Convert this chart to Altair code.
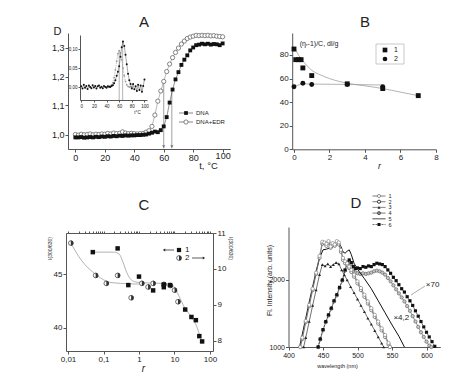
import altair as alt
import pandas as pd

W, H = 458, 364
FONT = "Liberation Sans"
INK = "#222222"
AX = "#555555"
GRAY = "#a0a0a0"

# ---------------- Panel A : melting curves ----------------
a_t = list(range(0, 101, 2))
a_dna = [0.990, 0.990, 0.991, 0.989, 0.990, 0.991, 0.990, 0.992, 0.991, 0.993,
         0.992, 0.994, 0.993, 0.995, 0.994, 0.996, 0.995, 0.997, 0.996, 0.997,
         0.997, 0.998, 0.998, 0.999, 1.000, 1.003, 1.006, 1.010, 1.008, 1.015,
         1.028, 1.060, 1.110, 1.155, 1.190, 1.215, 1.240, 1.258, 1.273, 1.290,
         1.300, 1.308, 1.310, 1.313, 1.311, 1.313, 1.310, 1.312, 1.311, 1.308, 1.314]
a_edr = [1.000, 0.998, 1.001, 0.999, 1.000, 1.002, 0.999, 1.001, 1.000, 1.002,
         1.001, 1.004, 1.002, 1.005, 1.003, 1.004, 1.009, 1.005, 1.003, 1.004,
         1.003, 1.002, 1.003, 1.004, 1.008, 1.013, 1.028, 1.067, 1.115, 1.150,
         1.183, 1.217, 1.243, 1.265, 1.283, 1.298, 1.312, 1.322, 1.331, 1.336,
         1.339, 1.342, 1.341, 1.342, 1.341, 1.342, 1.340, 1.341, 1.339, 1.338, 1.337]
a_tm = [60, 65.5]
a_tm_top = [1.19, 1.16]
a_legend = ["DNA", "DNA+EDR"]

# inset: derivative curves
ai_t = list(range(0, 101, 2))
ai_dna = [0.002, -0.004, 0.006, -0.002, 0.003, -0.005, 0.004, 0.000, -0.003, 0.005,
          -0.001, 0.003, -0.004, 0.002, 0.004, -0.002, 0.001, -0.003, 0.003, 0.000,
          -0.002, 0.002, 0.001, 0.000, 0.003, 0.005, 0.010, 0.018, 0.030, 0.040,
          0.055, 0.080, 0.105, 0.120, 0.108, 0.085, 0.060, 0.035, 0.018, 0.008,
          -0.004, 0.008, -0.006, 0.002, -0.010, 0.006, -0.008, 0.004, -0.012, 0.003, 0.020]
ai_edr_t = list(range(40, 81, 2))
ai_edr = [0.000, 0.002, 0.001, 0.003, 0.006, 0.012, 0.025, 0.045, 0.068, 0.088,
          0.096, 0.090, 0.072, 0.050, 0.030, 0.015, 0.006, 0.002, 0.000, 0.001, 0.000]
ai_tm_top = [0.096, 0.120]

# ---------------- Panel B : viscosity ----------------
b_r1 = [0, 0.1, 0.25, 0.4, 0.5, 1, 3, 5, 7]
b_v1 = [85, 76, 76, 76, 69, 62.5, 55.5, 51.5, 45.5]
b_r2 = [0, 0.5, 1, 3, 5]
b_v2 = [53, 56, 55, 55, 53]
b_fit1_r = [0, 0.25, 0.5, 1, 1.5, 2, 3, 4, 5, 6, 7]
b_fit1_v = [87, 80, 75, 67, 63, 60, 56, 53.8, 51.5, 48.5, 45.5]
b_fit2_r = [0, 0.5, 1, 3, 5]
b_fit2_v = [53.5, 55.5, 55.3, 55, 54.5]
b_legend = ["1", "2"]

# ---------------- Panel C : I(300/630) vs r ----------------
c_r1 = [0.05, 0.25, 0.5, 1, 2.5, 5, 5, 7.5, 20, 30, 40, 50, 60]
c_v1 = [47.1, 47.45, 44.0, 44.8, 43.5, 44.05, 43.8, 44.0, 41.7, 41.0, 40.7, 39.2, 38.7]
c_r2 = [0.012, 0.06, 0.12, 0.25, 0.6, 1.2, 1.8, 2.5, 5, 7.6, 10, 12.5]
c_v2 = [10.72, 9.82, 9.6, 9.82, 9.2, 9.6, 9.5, 9.6, 9.57, 9.54, 9.41, 9.09]
c_fit1_r = [0.05, 0.1, 0.2, 0.28, 0.35, 0.45, 0.6, 0.8, 1, 2, 5, 8, 10, 12, 15, 20, 30, 40, 50, 60]
c_fit1_v = [47.1, 47.1, 47.1, 46.9, 46.2, 45.2, 44.5, 44.3, 44.25, 44.2, 44.15, 44.0,
            43.8, 43.3, 42.6, 41.8, 41.0, 40.3, 39.4, 38.6]
c_fit2_r = [0.012, 0.02, 0.03, 0.045, 0.07, 0.1, 0.15, 0.3, 1]
c_fit2_v = [10.72, 10.35, 10.12, 9.95, 9.8, 9.7, 9.63, 9.6, 9.58]
c_legend = ["1", "2"]
c_minor = [k * 10.0 ** e for e in (-2, -1, 0, 1) for k in range(1, 10)] + [100]

# ---------------- Panel D : fluorescence spectra ----------------
d1_nm = [417, 420, 425, 430, 435, 440, 445, 449, 452, 455, 458, 461, 464, 467, 470, 473, 476,
         479, 482, 485, 488, 491, 495, 500, 505, 510, 515, 520, 525, 530, 535, 540, 545, 547]
d1 = [1000, 1140, 1390, 1630, 1870, 2110, 2360, 2570, 2560, 2540, 2580, 2500, 2550, 2530, 2580,
      2560, 2450, 2330, 2280, 2250, 2200, 2150, 2080, 1980, 1880, 1780, 1680, 1580, 1480, 1380,
      1280, 1180, 1060, 1000]
d2 = [1000, 1120, 1370, 1610, 1850, 2090, 2330, 2540, 2550, 2510, 2560, 2480, 2520, 2510, 2560,
      2530, 2420, 2300, 2250, 2230, 2180, 2120, 2050, 1950, 1850, 1750, 1650, 1550, 1450, 1350,
      1250, 1150, 1040, 1000]
d3_nm = [422, 425, 430, 435, 440, 445, 449, 453, 457, 461, 465, 469, 473, 477, 481, 485, 490,
         495, 500, 505, 510, 515, 520, 525, 530, 535, 538]
d3 = [1000, 1140, 1380, 1620, 1850, 2080, 2230, 2210, 2240, 2200, 2230, 2260, 2240, 2150, 2075,
      2000, 1900, 1810, 1715, 1620, 1525, 1430, 1340, 1245, 1150, 1055, 1000]
d4_nm = [443, 446, 450, 454, 458, 462, 466, 470, 474, 478, 482, 485, 488, 491, 494, 497, 500,
         504, 508, 512, 516, 520, 524, 528, 532, 536, 540, 544, 548, 552, 556, 560, 564, 568,
         572, 576, 580, 584, 588, 592, 596, 600, 604, 607]
d4 = [1000, 1110, 1250, 1370, 1470, 1570, 1680, 1770, 1880, 1990, 2140, 2240, 2280, 2240, 2160,
      2110, 2100, 2090, 2100, 2090, 2100, 2110, 2130, 2140, 2130, 2110, 2080, 2030, 1980, 1920,
      1860, 1800, 1740, 1680, 1610, 1540, 1460, 1380, 1300, 1220, 1150, 1080, 1020, 1000]
d5_nm = [416, 420, 425, 430, 435, 440, 445, 450, 455, 460, 465, 470, 473, 476, 479, 482, 485,
         488, 491, 495, 500, 510, 520, 530, 540, 550, 560, 568]
d5 = [1000, 1190, 1430, 1670, 1900, 2130, 2330, 2450, 2460, 2480, 2500, 2530, 2550, 2500, 2420,
      2400, 2430, 2450, 2380, 2250, 2160, 2020, 1870, 1690, 1510, 1330, 1160, 1000]
d6_nm = [443, 446, 450, 454, 458, 462, 466, 470, 474, 478, 482, 485, 488, 491, 494, 497, 500,
         504, 508, 512, 516, 520, 524, 528, 532, 536, 540, 544, 548, 552, 556, 560, 564, 568,
         572, 576, 580, 584, 588, 592, 596, 600, 604, 608, 612]
d6 = [1000, 1120, 1260, 1380, 1480, 1580, 1690, 1780, 1890, 2000, 2150, 2260, 2300, 2260, 2200,
      2170, 2180, 2170, 2200, 2190, 2210, 2200, 2230, 2250, 2240, 2230, 2200, 2150, 2100, 2040,
      1990, 1930, 1870, 1820, 1750, 1690, 1620, 1540, 1460, 1380, 1300, 1220, 1150, 1080, 1010]
d_legend = ["1", "2", "3", "4", "5", "6"]
d_notes = ["×70", "×4,2"]
d_note_nm = [599, 552]
d_note_i = [1925, 1433]
d_pointer = [[577.5, 1776], [597.8, 1910]]

panel_letters = ["A", "B", "C", "D"]


# ---------------- helpers ----------------
def sc(domain, rng, typ="linear"):
    if typ == "log":
        return alt.Scale(type="log", domain=domain, range=rng, nice=False)
    return alt.Scale(type=typ, domain=domain, range=rng, nice=False, zero=False)


def ax(orient, offset, values, size=8, expr=None, **kw):
    d = dict(orient=orient, offset=offset, values=values, grid=False,
             domainColor=AX, tickColor=AX, labelColor=INK, labelFont=FONT,
             labelFontSize=size, tickSize=3, labelPadding=1,
             labelFlush=False, labelOverlap=False,
             titleFont=FONT, titleColor=INK, titleFontWeight="normal")
    if expr:
        d["labelExpr"] = expr
    d.update(kw)
    return alt.Axis(**d)


def xy(chart, data, xs, ys, xaxis=None, yaxis=None, xt=None, yt=None):
    return chart.properties(data=data).encode(
        x=alt.X("x:Q", scale=xs, axis=xaxis, title=xt),
        y=alt.Y("y:Q", scale=ys, axis=yaxis, title=yt))


def frame(xv, yv):
    return pd.DataFrame({"x": xv, "y": yv})


layers = []

# ---------------- Panel A ----------------
AXS = sc([-5, 105], [60, 222])
AYS = sc([0.95, 1.35], [141, 25])
comma1 = "replace(format(datum.value, '.1f'), '.', ',')"
dA = frame(a_t, a_dna)
eA = frame(a_t, a_edr)
tmA = pd.DataFrame({"x": a_tm, "y": a_tm_top, "y2": [0.952, 0.952], "ya": [0.958, 0.958]})
layers.append(alt.Chart(tmA).mark_rule(color=GRAY, strokeWidth=1).encode(
    x=alt.X("x:Q", scale=AXS, axis=None), y=alt.Y("y:Q", scale=AYS, axis=None), y2="y2:Q"))
layers.append(alt.Chart(tmA).mark_point(shape="triangle-down", filled=True, size=10, color="#777", opacity=1).encode(
    x=alt.X("x:Q", scale=AXS, axis=None), y=alt.Y("ya:Q", scale=AYS, axis=None)))
layers.append(xy(alt.Chart().mark_line(color="#444", strokeWidth=0.6), dA, AXS, AYS))
layers.append(xy(alt.Chart().mark_line(color="#888", strokeWidth=0.6), eA, AXS, AYS))
layers.append(xy(alt.Chart().mark_point(shape="circle", filled=True, fill="white", stroke="#555",
                                        strokeWidth=0.7, size=18, opacity=1), eA, AXS, AYS,
                 xaxis=ax("bottom", -223, [100], size=9, labelPadding=-1, tickSize=3)))
layers.append(xy(alt.Chart().mark_point(shape="square", filled=True, color="#111", size=15, opacity=1),
                 dA, AXS, AYS,
                 xaxis=ax("bottom", -223, [0, 20, 40, 60, 80], size=9,
                          titleX=200, titleY=16, titleFontSize=9.5, titleAlign="center",
                          titleBaseline="middle"),
                 yaxis=ax("left", -60, [1.0, 1.1, 1.2, 1.3], size=9, expr=comma1,
                          titleAngle=0, titleX=-11, titleY=23, titleFontSize=11,
                          titleAlign="center", titleBaseline="middle"),
                 xt="t, °C", yt="D"))

# inset
AIXS = sc([-2, 104], [72, 139])
AIYS = sc([-0.034, 0.137], [92, 27])
comma2 = "replace(format(datum.value, '.2f'), '.', ',')"
idA = frame(ai_t, ai_dna)
ieA = frame(ai_edr_t, ai_edr)
itm = pd.DataFrame({"x": a_tm, "y": ai_tm_top, "y2": [-0.034, -0.034]})
layers.append(alt.Chart(itm).mark_rule(color=GRAY, strokeWidth=0.8).encode(
    x=alt.X("x:Q", scale=AIXS, axis=None), y=alt.Y("y:Q", scale=AIYS, axis=None), y2="y2:Q"))
layers.append(xy(alt.Chart().mark_line(color="#999", strokeWidth=0.6, strokeDash=[1.5, 1]), ieA, AIXS, AIYS))
layers.append(xy(alt.Chart().mark_point(shape="circle", filled=True, color="#999", size=3, opacity=1), ieA, AIXS, AIYS))
layers.append(xy(alt.Chart().mark_line(color="#555", strokeWidth=0.5), idA, AIXS, AIYS))
layers.append(xy(alt.Chart().mark_point(shape="circle", filled=True, color="#111", size=4, opacity=1),
                 idA, AIXS, AIYS,
                 xaxis=ax("bottom", -272, [0, 20, 40, 60, 80, 100], size=4.5, tickSize=2,
                          titleX=129, titleY=12, titleFontSize=4.5, titleAlign="center",
                          titleBaseline="middle"),
                 yaxis=ax("left", -72, [0.0, 0.05, 0.10], size=4.5, expr=comma2, tickSize=2),
                 xt="t°C", yt=None))

# legend A
for i, lab in enumerate(a_legend):
    yy = 105 + 9 * i
    one = pd.DataFrame({"t": [lab]})
    layers.append(alt.Chart(one).mark_rule(color="#555", strokeWidth=0.7).encode(
        x=alt.value(171), x2=alt.value(185), y=alt.value(yy)))
    if i == 0:
        pm = alt.Chart(one).mark_point(shape="square", filled=True, color="#111", size=14, opacity=1)
    else:
        pm = alt.Chart(one).mark_point(shape="circle", filled=True, fill="white", stroke="#555",
                                       strokeWidth=0.7, size=18, opacity=1)
    layers.append(pm.encode(x=alt.value(178), y=alt.value(yy)))
    layers.append(alt.Chart(one).mark_text(font=FONT, fontSize=6, color=INK, align="left",
                                           baseline="middle").encode(
        x=alt.value(188), y=alt.value(yy), text="t:N"))

# ---------------- Panel B ----------------
BXS = sc([-0.1, 8], [284.2, 428])
BYS = sc([0, 98.6], [141.3, 25])
layers.append(xy(alt.Chart().mark_line(color=GRAY, strokeWidth=0.8, interpolate="monotone"),
                 frame(b_fit1_r, b_fit1_v), BXS, BYS))
layers.append(xy(alt.Chart().mark_line(color=GRAY, strokeWidth=0.8),
                 frame(b_fit2_r, b_fit2_v), BXS, BYS))
layers.append(xy(alt.Chart().mark_point(shape="circle", filled=True, color="#111", size=24, opacity=1),
                 frame(b_r2, b_v2), BXS, BYS))
layers.append(xy(alt.Chart().mark_point(shape="square", filled=True, color="#111", size=24, opacity=1),
                 frame(b_r1, b_v1), BXS, BYS,
                 xaxis=ax("bottom", -222.7, [0, 2, 4, 6, 8], size=8,
                          titleX=371, titleY=16, titleFontSize=9, titleFontStyle="italic",
                          titleAlign="center", titleBaseline="middle"),
                 yaxis=ax("left", -284.2, [0, 20, 40, 60, 80], size=8,
                          titleAngle=0, titleX=7, titleY=35, titleFontSize=7,
                          titleAlign="left", titleBaseline="middle"),
                 xt="r", yt="(ηᵣ-1)/C, dl/g"))
boxB = pd.DataFrame({"t": ["box"]})
layers.append(alt.Chart(boxB).mark_rect(fill="white", stroke="#bbbbbb", strokeWidth=0.8).encode(
    x=alt.value(368), x2=alt.value(396), y=alt.value(36), y2=alt.value(56)))
for i, lab in enumerate(b_legend):
    yy = 42 + 9 * i
    one = pd.DataFrame({"t": [lab]})
    shp = "square" if i == 0 else "circle"
    layers.append(alt.Chart(one).mark_point(shape=shp, filled=True, color="#111", size=22, opacity=1).encode(
        x=alt.value(377), y=alt.value(yy)))
    layers.append(alt.Chart(one).mark_text(font=FONT, fontSize=7, color=INK, align="left",
                                           baseline="middle").encode(
        x=alt.value(386), y=alt.value(yy), text="t:N"))

# ---------------- Panel C ----------------
CXS = sc([0.00878, 121.5], [58, 205], "log")
CYL = sc([37.8, 48.9], [343, 225])
CYR = sc([7.72, 11.0], [343, 225])
logexpr = "replace(toString(datum.value), '.', ',')"
layers.append(xy(alt.Chart().mark_line(color=GRAY, strokeWidth=0.8, interpolate="monotone"),
                 frame(c_fit1_r, c_fit1_v), CXS, CYL,
                 xaxis=ax("top", -225, c_minor, size=6, labels=False, tickSize=2)))
layers.append(xy(alt.Chart().mark_line(color=GRAY, strokeWidth=0.8, interpolate="monotone"),
                 frame(c_fit2_r, c_fit2_v), CXS, CYR))
c2 = frame(c_r2, c_v2)
layers.append(alt.Chart(c2).mark_point(shape="circle", filled=True, fill="white", stroke="#333",
                                       strokeWidth=0.7, size=22, opacity=1).encode(
    x=alt.X("x:Q", scale=CXS, axis=None),
    y=alt.Y("y:Q", scale=CYR,
            axis=ax("right", -253, [8, 9, 10, 11], size=8, titleAngle=90, titleX=17, titleY=240,
                    titleFontSize=5, titleAlign="center", titleBaseline="middle"),
            title="I(300/630)")))
layers.append(alt.Chart(c2).mark_arc(radius=2.6, theta=0, theta2=3.1416, color="#333").encode(
    x=alt.X("x:Q", scale=CXS, axis=None), y=alt.Y("y:Q", scale=CYR, axis=None)))
layers.append(xy(alt.Chart().mark_point(shape="square", filled=True, color="#111", size=20, opacity=1),
                 frame(c_r1, c_v1), CXS, CYL,
                 xaxis=ax("bottom", -21, [0.01, 0.1, 1, 10, 100], size=8, expr=logexpr,
                          titleX=135, titleY=17, titleFontSize=10, titleFontStyle="italic",
                          titleAlign="center", titleBaseline="middle"),
                 yaxis=ax("left", -58, [40, 45], size=8, titleAngle=-90, titleX=-17, titleY=240,
                          titleFontSize=5, titleAlign="center", titleBaseline="middle"),
                 xt="r", yt="I(300/630)"))
# legend C
one = pd.DataFrame({"t": [c_legend[0]]})
layers.append(alt.Chart(one).mark_rule(color="#333", strokeWidth=0.8).encode(
    x=alt.value(156), x2=alt.value(166), y=alt.value(242)))
layers.append(alt.Chart(one).mark_point(shape="triangle-left", filled=True, color="#333", size=8, opacity=1).encode(
    x=alt.value(156), y=alt.value(242)))
layers.append(alt.Chart(one).mark_point(shape="square", filled=True, color="#111", size=18, opacity=1).encode(
    x=alt.value(171), y=alt.value(242)))
layers.append(alt.Chart(one).mark_text(font=FONT, fontSize=8, color=INK, align="left", baseline="middle").encode(
    x=alt.value(177), y=alt.value(242), text="t:N"))
two = pd.DataFrame({"t": [c_legend[1]]})
layers.append(alt.Chart(two).mark_point(shape="circle", filled=True, fill="white", stroke="#333",
                                        strokeWidth=0.7, size=22, opacity=1).encode(
    x=alt.value(171), y=alt.value(250)))
layers.append(alt.Chart(two).mark_arc(radius=2.6, theta=0, theta2=3.1416, color="#333").encode(
    x=alt.value(171), y=alt.value(250)))
layers.append(alt.Chart(two).mark_text(font=FONT, fontSize=8, color=INK, align="left", baseline="middle").encode(
    x=alt.value(177), y=alt.value(250), text="t:N"))
layers.append(alt.Chart(two).mark_rule(color="#333", strokeWidth=0.8).encode(
    x=alt.value(184), x2=alt.value(196), y=alt.value(250)))
layers.append(alt.Chart(two).mark_point(shape="triangle-right", filled=True, color="#333", size=8, opacity=1).encode(
    x=alt.value(196), y=alt.value(250)))

# ---------------- Panel D ----------------
DXS = sc([400, 620], [280.5, 432.3])
DYS = sc([1000, 2791], [339, 219])
layers.append(xy(alt.Chart().mark_line(color="#666", strokeWidth=0.7), frame(d4_nm, d4), DXS, DYS))
layers.append(xy(alt.Chart().mark_point(shape="circle", filled=True, fill="#c8c8c8", stroke="#555",
                                        strokeWidth=0.6, size=11, opacity=1),
                 frame(d4_nm, d4), DXS, DYS))
layers.append(xy(alt.Chart().mark_line(color="#222", strokeWidth=0.7, strokeDash=[2, 1]), frame(d6_nm, d6), DXS, DYS))
layers.append(xy(alt.Chart().mark_point(shape="square", filled=True, color="#111", size=10, opacity=1),
                 frame(d6_nm, d6), DXS, DYS))
layers.append(xy(alt.Chart().mark_line(color="#111", strokeWidth=1.0), frame(d5_nm, d5), DXS, DYS))
layers.append(xy(alt.Chart().mark_line(color="#333", strokeWidth=0.7), frame(d3_nm, d3), DXS, DYS))
layers.append(xy(alt.Chart().mark_point(shape="triangle-up", filled=True, color="#222", size=9, opacity=1),
                 frame(d3_nm, d3), DXS, DYS))
layers.append(xy(alt.Chart().mark_line(color="#555", strokeWidth=0.7), frame(d1_nm, d2), DXS, DYS))
layers.append(xy(alt.Chart().mark_point(shape="circle", filled=True, fill="white", stroke="#444",
                                        strokeWidth=0.6, size=11, opacity=1),
                 frame(d1_nm, d2), DXS, DYS))
layers.append(xy(alt.Chart().mark_line(color="#777", strokeWidth=0.7), frame(d1_nm, d1), DXS, DYS))
layers.append(xy(alt.Chart().mark_point(shape="circle", filled=True, fill="white", stroke="#777",
                                        strokeWidth=0.6, size=11, opacity=1),
                 frame(d1_nm, d1), DXS, DYS,
                 xaxis=ax("bottom", -25, [400, 450, 500, 550, 600], size=7,
                          titleX=329, titleY=18, titleFontSize=5.5, titleAlign="center",
                          titleBaseline="middle"),
                 yaxis=ax("left", -280.5, [1000, 2000], size=7, format="d",
                          titleAngle=-90, titleX=-19, titleY=272, titleFontSize=7,
                          titleAlign="center", titleBaseline="middle"),
                 xt="wavelength (nm)", yt="Fl. Intensity (arb. units)"))
ptr = pd.DataFrame({"x": [d_pointer[0][0]], "y": [d_pointer[0][1]],
                    "x2": [d_pointer[1][0]], "y2": [d_pointer[1][1]]})
layers.append(alt.Chart(ptr).mark_rule(color="#888", strokeWidth=0.7).encode(
    x=alt.X("x:Q", scale=DXS, axis=None), y=alt.Y("y:Q", scale=DYS, axis=None),
    x2="x2:Q", y2="y2:Q"))
notes = pd.DataFrame({"x": d_note_nm, "y": d_note_i, "t": d_notes})
layers.append(alt.Chart(notes).mark_text(font=FONT, fontSize=8, color=INK, align="left",
                                         baseline="middle").encode(
    x=alt.X("x:Q", scale=DXS, axis=None), y=alt.Y("y:Q", scale=DYS, axis=None), text="t:N"))
# legend D
for i, lab in enumerate(d_legend):
    yy = 188 + 5.7 * i
    one = pd.DataFrame({"t": [lab]})
    layers.append(alt.Chart(one).mark_rule(color="#333", strokeWidth=0.7 if i != 4 else 1.0,
                                           strokeDash=[2, 1] if i == 5 else [1, 0]).encode(
        x=alt.value(364.5), x2=alt.value(377.5), y=alt.value(yy)))
    sty = [dict(shape="circle", filled=True, fill="white", stroke="#555", strokeWidth=0.6, size=10),
           dict(shape="circle", filled=True, fill="white", stroke="#222", strokeWidth=0.9, size=10),
           dict(shape="triangle-up", filled=True, color="#222", size=9),
           dict(shape="circle", filled=True, fill="#888", stroke="#222", strokeWidth=0.6, size=10),
           None,
           dict(shape="square", filled=True, color="#111", size=9)][i]
    if sty is not None:
        layers.append(alt.Chart(one).mark_point(opacity=1, **sty).encode(
            x=alt.value(371), y=alt.value(yy)))
    layers.append(alt.Chart(one).mark_text(font=FONT, fontSize=5.5, color=INK, align="left",
                                           baseline="middle").encode(
        x=alt.value(380.5), y=alt.value(yy), text="t:N"))

# ---------------- panel letters ----------------
letter_pos = [(136, 14), (357, 14), (136, 197), (348, 195)]
for lab, (px, py) in zip(panel_letters, letter_pos):
    one = pd.DataFrame({"t": [lab]})
    layers.append(alt.Chart(one).mark_text(font=FONT, fontSize=15, color=INK, align="center",
                                           baseline="middle").encode(
        x=alt.value(px), y=alt.value(py), text="t:N"))

chart = alt.layer(*layers).resolve_scale(x="independent", y="independent").resolve_axis(
    x="independent", y="independent").properties(
    width=W, height=H, autosize=alt.AutoSizeParams(type="none"), padding=0, background="white"
).configure_view(stroke=None)

chart.save("out.html", embed_options={"renderer": "svg", "actions": False})
